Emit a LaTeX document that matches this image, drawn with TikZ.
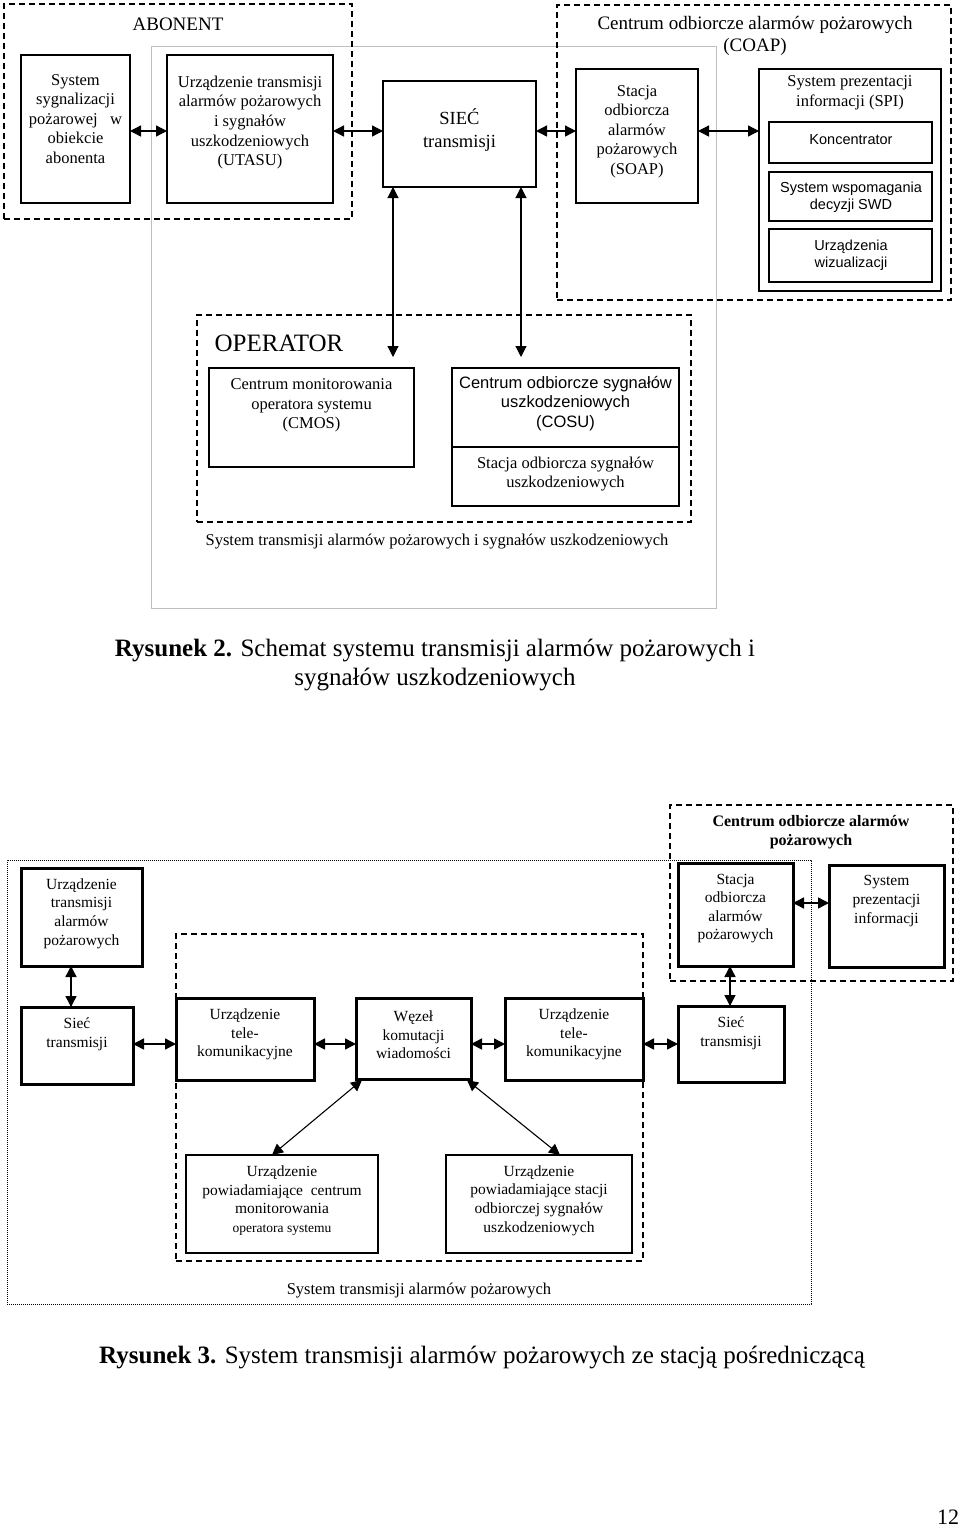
\documentclass[tikz,border=0pt]{standalone}
\usepackage{fontspec}
\setmainfont{Liberation Serif}
\newfontfamily\arialf{Liberation Sans}
\usetikzlibrary{arrows.meta,calc}
\begin{document}
\begin{tikzpicture}[x=1pt,y=-1pt,
 bx/.style={draw, line width=1.6pt, inner sep=0pt, outer sep=0pt, anchor=north west},
 bxb/.style={draw, line width=3pt, inner sep=0pt, outer sep=0pt, anchor=north west},
 grp/.style={draw, line width=1.7pt, dash pattern=on 6pt off 4pt, inner sep=0pt, outer sep=0pt, anchor=north west},
 grpb/.style={draw, line width=1.4pt, dash pattern=on 6pt off 4pt, inner sep=0pt, outer sep=0pt, anchor=north west},
 gframe/.style={draw=black!25, line width=1pt, inner sep=0pt, outer sep=0pt, anchor=north west},
 dotframe/.style={draw, line width=0.9pt, dash pattern=on 0.9pt off 1.1pt, inner sep=0pt, outer sep=0pt, anchor=north west},
 tr/.style={align=center, inner sep=0pt, font=\fontsize{16.5}{19.6}\selectfont},
 ta/.style={align=center, inner sep=0pt, font=\arialf\fontsize{14.5}{17}\selectfont},
 tb/.style={align=center, inner sep=0pt, font=\fontsize{15.5}{18.6}\selectfont},
 arr/.style={{Triangle[length=11pt,width=11pt]}-{Triangle[length=11pt,width=11pt]}, line width=1.3pt},
 arrv/.style={{Triangle[length=11pt,width=11pt]}-{Triangle[length=11pt,width=11pt]}, line width=1.1pt},
 arrb/.style={{Triangle[length=11pt,width=11pt]}-{Triangle[length=11pt,width=11pt]}, line width=1.5pt},
]
\useasboundingbox (0,0) rectangle (960,1527);
\fill[white] (0,0) rectangle (960,1527);

% ---------------- Figure 2 ----------------
\node[gframe, minimum width=565pt, minimum height=562pt] (gsys) at (151,46) {};
\node[grp, minimum width=348pt, minimum height=215pt] (abon) at (4,4) {};
\node[grp, minimum width=394pt, minimum height=295pt] (coap) at (557,5) {};
\node[grp, minimum width=494pt, minimum height=207pt] (oper) at (197,315) {};

\node[bx, minimum width=109pt, minimum height=148pt] (sys) at (21,55) {};
\node[bx, minimum width=166pt, minimum height=148pt] (utasu) at (167,55) {};
\node[bx, minimum width=153pt, minimum height=106pt] (siec) at (383,81) {};
\node[bx, minimum width=122pt, minimum height=134pt] (soap) at (576,69) {};
\node[bx, minimum width=182pt, minimum height=222pt] (spi) at (759,69) {};
\node[bx, minimum width=163pt, minimum height=41pt] (konc) at (769,122) {};
\node[bx, minimum width=163pt, minimum height=49pt] (swd) at (769,172) {};
\node[bx, minimum width=163pt, minimum height=53pt] (uwiz) at (769,229) {};
\node[bx, minimum width=205pt, minimum height=99pt] (cmos) at (209,368) {};
\node[bx, minimum width=227pt, minimum height=79pt] (cosu) at (452,368) {};
\node[bx, minimum width=227pt, minimum height=59pt] (sosu) at (452,447) {};

\node[tr, font=\fontsize{19}{22}\selectfont] (tabon) at (178,24) {ABONENT};
\node[tr, font=\fontsize{19}{22}\selectfont] (tcoap) at (755,36) {Centrum odbiorcze alarmów pożarowych\\(COAP)};
\node[tr] (tsys) at (75.5,119) {System\\sygnalizacji\\pożarowej~~~w\\obiekcie\\abonenta};
\node[tr] (tutasu) at (250,122.5) {Urządzenie transmisji\\alarmów pożarowych\\i sygnałów\\uszkodzeniowych\\(UTASU)};
\node[tr, font=\fontsize{18.5}{23.5}\selectfont] (tsiec) at (459.5,130) {SIEĆ\\transmisji};
\node[tr] (tsoap) at (637,131.5) {Stacja\\odbiorcza\\alarmów\\pożarowych\\(SOAP)};
\node[tr] (tspi) at (850,93) {System prezentacji\\informacji (SPI)};
\node[ta] (tkonc) at (851,140) {Koncentrator};
\node[ta] (tswd) at (851,197.5) {System wspomagania\\decyzji SWD};
\node[ta] (tuwiz) at (851,255) {Urządzenia\\wizualizacji};
\node[tr, font=\fontsize{25}{29}\selectfont] (toper) at (279,343) {OPERATOR};
\node[tr] (tcmos) at (311.5,405.5) {Centrum monitorowania\\operatora systemu\\(CMOS)};
\node[ta, font=\arialf\fontsize{16.5}{19.6}\selectfont] (tcosu) at (565.5,403.5) {Centrum odbiorcze sygnałów\\uszkodzeniowych\\(COSU)};
\node[tr] (tsosu) at (565.5,474) {Stacja odbiorcza sygnałów\\uszkodzeniowych};
\node[tr] (tgsys) at (437,542) {System transmisji alarmów pożarowych i sygnałów uszkodzeniowych};
\node[tr, font=\fontsize{25}{29}\selectfont] (cap2) at (435,664.5) {\textbf{Rysunek 2.} Schemat systemu transmisji alarmów pożarowych i\\sygnałów uszkodzeniowych};

\coordinate (ay) at (0,131);
\draw[arr] (sys.east |- ay) -- (utasu.west |- ay);
\draw[arr] (utasu.east |- ay) -- (siec.west |- ay);
\draw[arr] (siec.east |- ay) -- (soap.west |- ay);
\draw[arr] (soap.east |- ay) -- (spi.west |- ay);
\coordinate (d1) at (393,357);
\coordinate (d2) at (521,357);
\draw[arrv] (siec.south -| d1) -- (d1);
\draw[arrv] (siec.south -| d2) -- (d2);

% ---------------- Figure 3 ----------------
\node[dotframe, minimum width=804pt, minimum height=444pt] (gsta) at (7,860) {};
\node[grp, minimum width=283pt, minimum height=176pt] (coap2) at (670,805) {};
\node[grpb, minimum width=467pt, minimum height=327pt] (inner) at (176,934) {};

\node[bxb, minimum width=121pt, minimum height=98pt] (utap) at (21,868) {};
\node[bxb, minimum width=115pt, minimum height=103pt] (stac) at (678,863) {};
\node[bxb, minimum width=115pt, minimum height=102pt] (spi2) at (829,865) {};
\node[bxb, minimum width=112pt, minimum height=77pt] (siec1) at (21,1007) {};
\node[bxb, minimum width=138pt, minimum height=82pt] (ut1) at (176,998) {};
\node[bxb, minimum width=115pt, minimum height=81pt] (wezel) at (356,998) {};
\node[bxb, minimum width=138pt, minimum height=82pt] (ut2) at (505,998) {};
\node[bxb, minimum width=106pt, minimum height=76pt] (siec2) at (678,1006) {};
\node[bx, minimum width=192pt, minimum height=98pt] (pow1) at (186,1155) {};
\node[bx, minimum width=186pt, minimum height=98pt] (pow2) at (446,1155) {};

\node[tb, font=\bfseries\fontsize{16}{19}\selectfont] (tcoap2) at (811,832.5) {Centrum odbiorcze alarmów\\pożarowych};
\node[tb] (tutap) at (81.5,913.5) {Urządzenie\\transmisji\\alarmów\\pożarowych};
\node[tb] (tstac) at (735.5,908.5) {Stacja\\odbiorcza\\alarmów\\pożarowych};
\node[tb] (tspi2) at (886.5,901) {System\\prezentacji\\informacji};
\node[tb] (tsiec1) at (77,1034) {Sieć\\transmisji};
\node[tb] (tut1) at (245,1034.5) {Urządzenie\\tele-\\komunikacyjne};
\node[tb] (twezel) at (413.5,1035) {Węzeł\\komutacji\\wiadomości};
\node[tb] (tut2) at (574,1034.5) {Urządzenie\\tele-\\komunikacyjne};
\node[tb] (tsiec2) at (731,1033.5) {Sieć\\transmisji};
\node[tb] (tpow1) at (282,1200.5) {Urządzenie\\powiadamiające~ centrum\\monitorowania\\{\fontsize{13.5}{18.6}\selectfont operatora systemu}};
\node[tb] (tpow2) at (539,1200.5) {Urządzenie\\powiadamiające stacji\\odbiorczej sygnałów\\uszkodzeniowych};
\node[tr] (tgsta) at (419,1291) {System transmisji alarmów pożarowych};
\node[tr, font=\fontsize{25}{29}\selectfont] (cap3) at (482,1357) {\textbf{Rysunek 3.} System transmisji alarmów pożarowych ze stacją pośredniczącą};
\node[tr, font=\fontsize{22}{26}\selectfont] (pageno) at (948,1517) {12};

\coordinate (by) at (0,1044);
\coordinate (sy) at (0,903);
\coordinate (vx1) at (71,0);
\coordinate (vx2) at (730,0);
\draw[arrb] (utap.south -| vx1) -- (siec1.north -| vx1);
\draw[arrb] (siec1.east |- by) -- (ut1.west |- by);
\draw[arrb] (ut1.east |- by) -- (wezel.west |- by);
\draw[arrb] (wezel.east |- by) -- (ut2.west |- by);
\draw[arrb] (ut2.east |- by) -- (siec2.west |- by);
\draw[arrb] (stac.south -| vx2) -- (siec2.north -| vx2);
\draw[arrb] (stac.east |- sy) -- (spi2.west |- sy);
\draw[arrv] ($(wezel.south west)+(6,1)$) -- ($(pow1.north)+(-10,0)$);
\draw[arrv] ($(wezel.south east)+(-4,1)$) -- ($(pow2.north)+(21,0)$);
\end{tikzpicture}
\end{document}
